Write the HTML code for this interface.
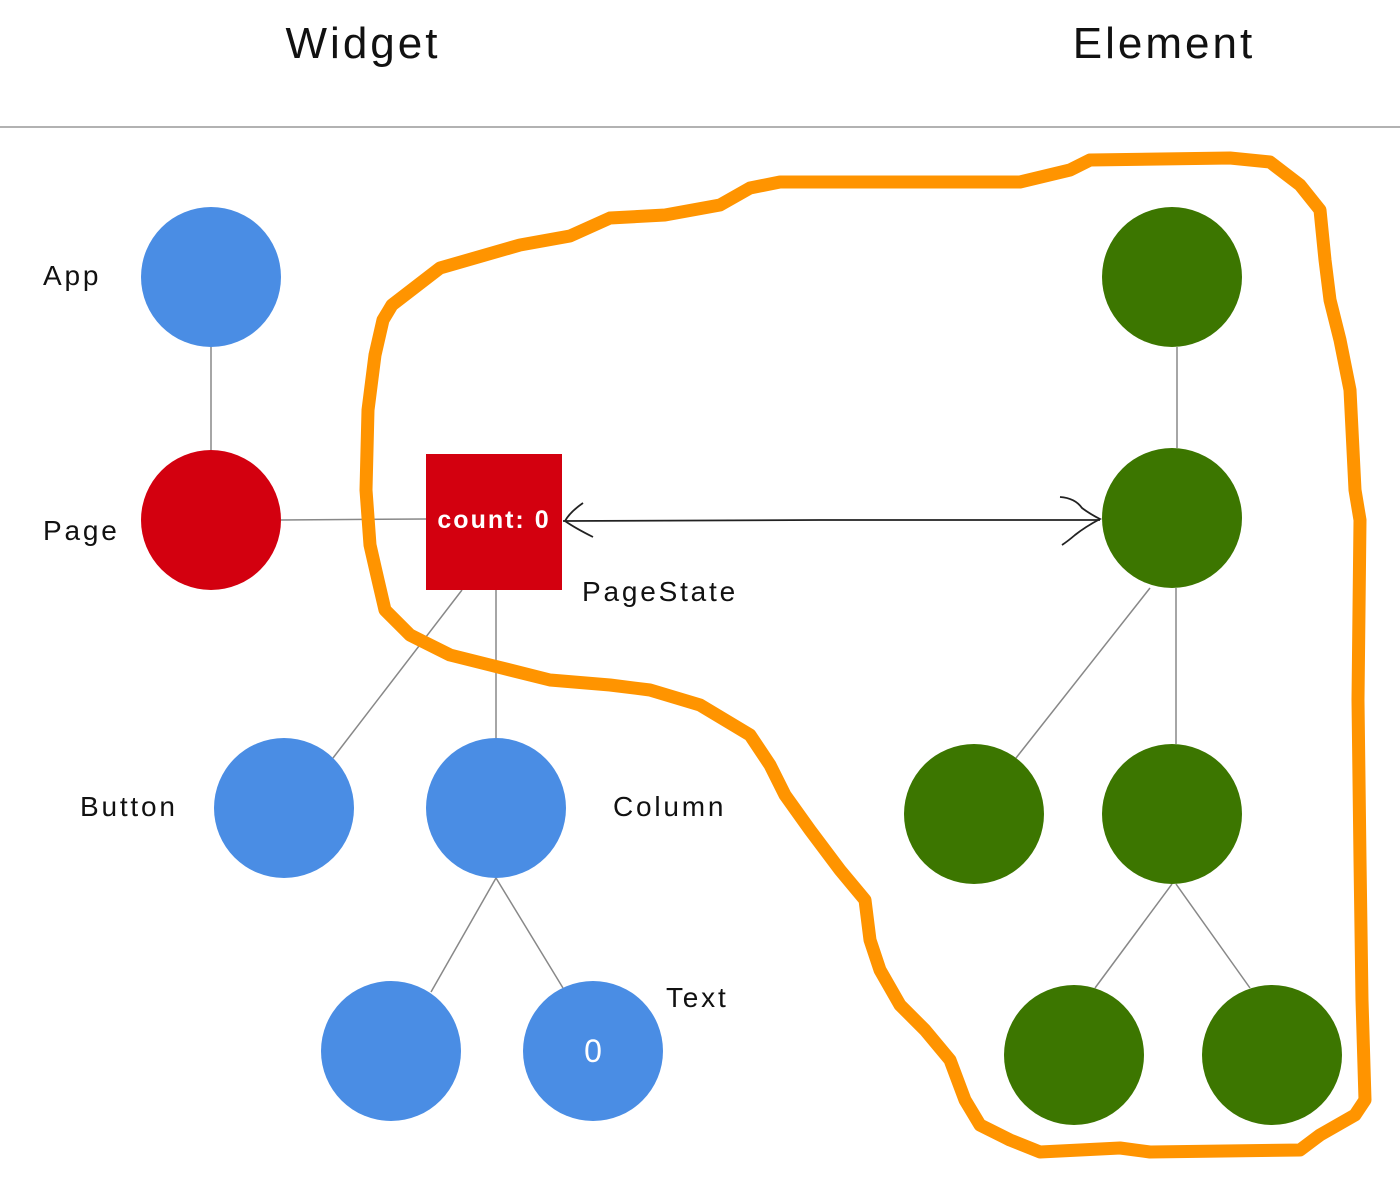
<!DOCTYPE html>
<html><head><meta charset="utf-8"><style>html,body{margin:0;padding:0;background:#fff}svg{display:block}</style></head>
<body>
<svg width="1400" height="1188" viewBox="0 0 1400 1188" xmlns="http://www.w3.org/2000/svg" font-family="Liberation Sans, sans-serif">
<text x="363" y="58" font-size="44" text-anchor="middle" fill="#111" letter-spacing="3">Widget</text>
<text x="1164" y="58" font-size="44" text-anchor="middle" fill="#111" letter-spacing="3">Element</text>
<line x1="0" y1="127" x2="1400" y2="127" stroke="#999" stroke-width="1.5"/>
<g stroke="#888" stroke-width="1.5">
<line x1="211" y1="347" x2="211" y2="450"/>
<line x1="281" y1="520" x2="426" y2="519"/>
<line x1="462" y1="590" x2="333" y2="758"/>
<line x1="496" y1="590" x2="496" y2="738"/>
<line x1="496" y1="878" x2="431" y2="992"/>
<line x1="496" y1="878" x2="563" y2="988"/>
<line x1="1177" y1="347" x2="1177" y2="448"/>
<line x1="1150" y1="588" x2="1016" y2="758"/>
<line x1="1176" y1="588" x2="1176" y2="744"/>
<line x1="1172" y1="884" x2="1095" y2="988"/>
<line x1="1176" y1="884" x2="1250" y2="988"/>
</g>
<g fill="#4a8de4">
<circle cx="211" cy="277" r="70"/>
<circle cx="284" cy="808" r="70"/>
<circle cx="496" cy="808" r="70"/>
<circle cx="391" cy="1051" r="70"/>
<circle cx="593" cy="1051" r="70"/>
</g>
<circle cx="211" cy="520" r="70" fill="#d3000f"/>
<rect x="426" y="454" width="136" height="136" fill="#d3000f"/>
<text x="494" y="528" font-size="25" font-weight="bold" fill="#fff" text-anchor="middle" letter-spacing="2">count: 0</text>
<text x="593" y="1062" font-size="32" fill="#fff" text-anchor="middle">0</text>
<g fill="#3c7600">
<circle cx="1172" cy="277" r="70"/>
<circle cx="1172" cy="518" r="70"/>
<circle cx="974" cy="814" r="70"/>
<circle cx="1172" cy="814" r="70"/>
<circle cx="1074" cy="1055" r="70"/>
<circle cx="1272" cy="1055" r="70"/>
</g>
<g font-size="28" fill="#111" letter-spacing="2.8">
<text x="43" y="285">App</text>
<text x="43" y="540">Page</text>
<text x="582" y="601">PageState</text>
<text x="80" y="816">Button</text>
<text x="613" y="816">Column</text>
<text x="666" y="1007">Text</text>
</g>
<g fill="none" stroke="#222" stroke-width="1.8">
<path d="M563 521 L820 520 L1100 520"/>
<path d="M583 503 Q570 512 565 521 Q575 528 593 537"/>
<path d="M1060 497 Q1075 498 1082 508 Q1090 514 1100 519 Q1085 527 1075 535 Q1068 541 1062 545"/>
</g>
<path fill="none" stroke="#ff9400" stroke-width="13" stroke-linejoin="round" stroke-linecap="round"
d="M392 305 L440 268 L520 245 L570 236 L610 218 L665 215 L720 205 L750 188 L780 182 L1020 182 L1070 170 L1090 160 L1230 158 L1270 162 L1300 185 L1320 210 L1325 260 L1330 300 L1340 340 L1350 390 L1355 490 L1360 520 L1358 700 L1360 860 L1362 1000 L1365 1100 L1355 1115 L1320 1135 L1300 1150 L1150 1152 L1120 1148 L1040 1152 L1010 1140 L980 1125 L965 1100 L950 1060 L925 1030 L900 1005 L880 970 L870 940 L865 900 L840 870 L810 830 L785 795 L770 765 L750 735 L700 705 L650 690 L610 685 L550 680 L490 665 L450 655 L410 635 L385 610 L378 580 L370 545 L366 490 L368 410 L375 355 L383 320 Z"/>
</svg>
</body></html>
